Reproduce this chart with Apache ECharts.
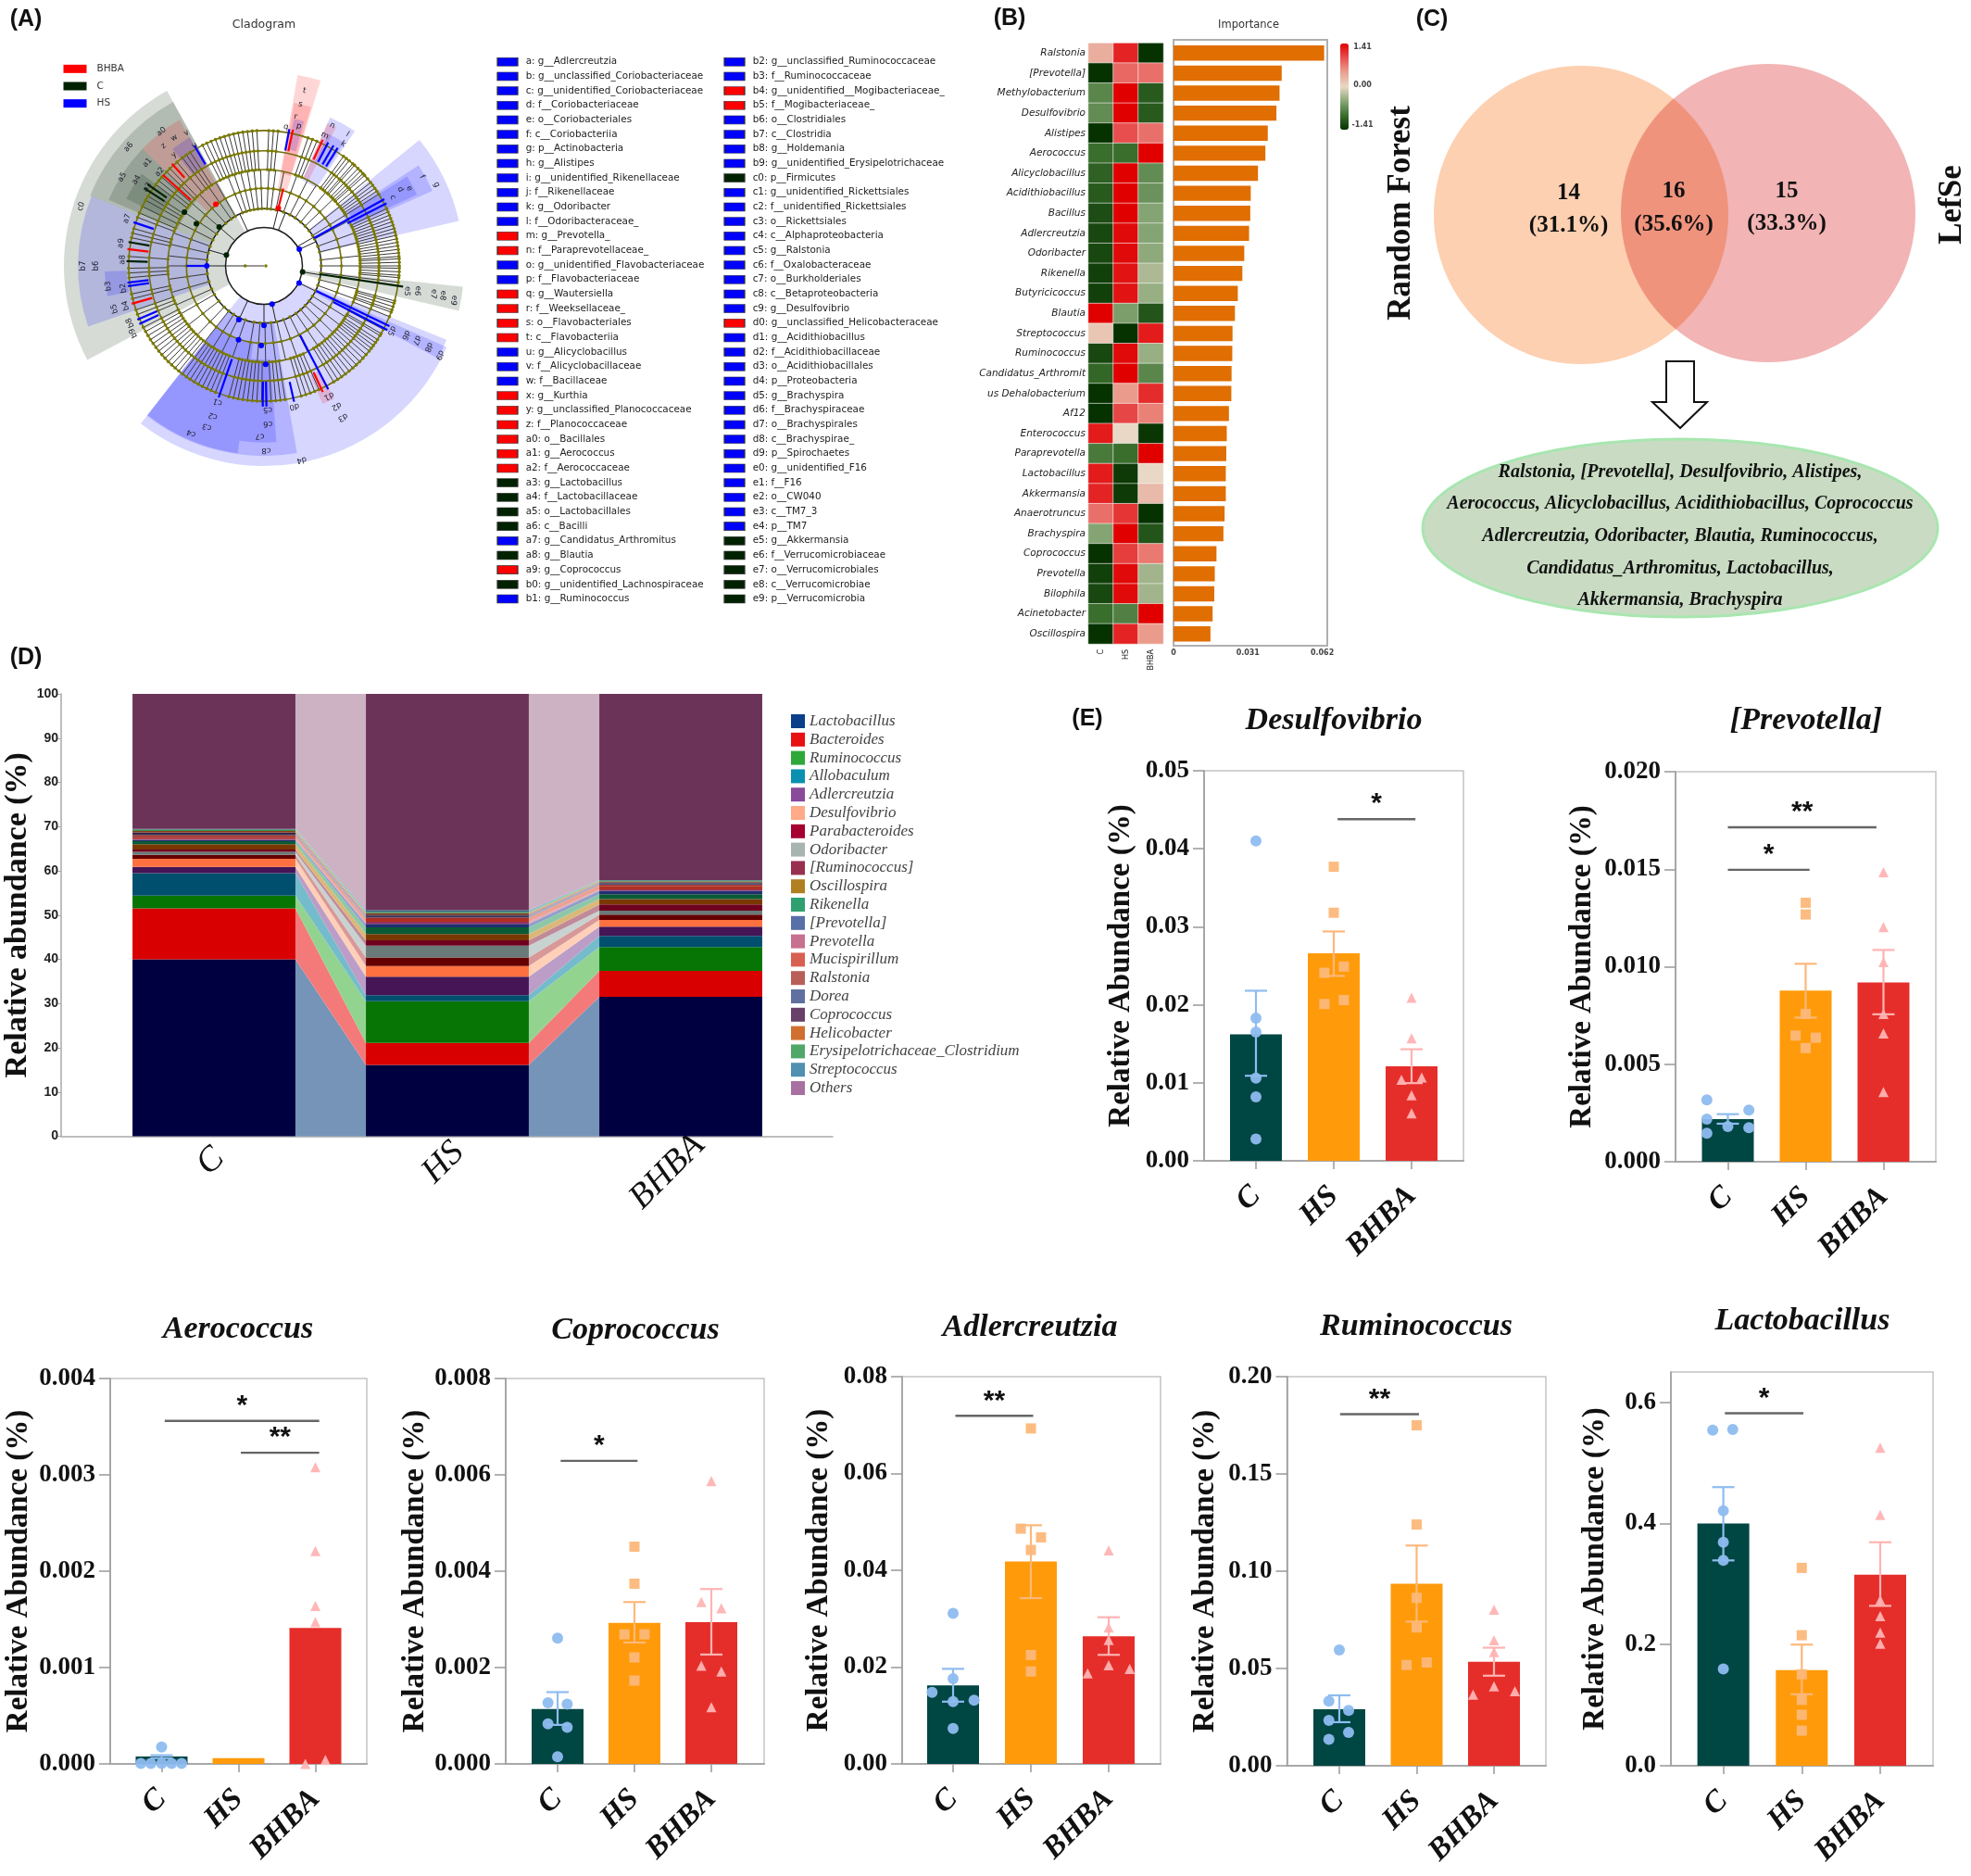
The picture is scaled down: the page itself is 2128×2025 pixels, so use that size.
<!DOCTYPE html>
<html><head><meta charset="utf-8"><style>html,body{margin:0;padding:0;background:#fff}#c{width:2128px;height:2025px}</style>
<script src="https://cdn.jsdelivr.net/npm/echarts@6/dist/echarts.min.js"></script></head>
<body><div id="c"></div>
<script>
// ---------- Panel A data ----------
const RED='#ff0000',DKG='#002200',BLU='#0000ff';
const lefseLeftNames=['a: g__Adlercreutzia','b: g__unclassified_Coriobacteriaceae','c: g__unidentified_Coriobacteriaceae','d: f__Coriobacteriaceae','e: o__Coriobacteriales','f: c__Coriobacteriia','g: p__Actinobacteria','h: g__Alistipes','i: g__unidentified_Rikenellaceae','j: f__Rikenellaceae','k: g__Odoribacter','l: f__Odoribacteraceae_','m: g__Prevotella_','n: f__Paraprevotellaceae_','o: g__unidentified_Flavobacteriaceae','p: f__Flavobacteriaceae','q: g__Wautersiella','r: f__Weeksellaceae_','s: o__Flavobacteriales','t: c__Flavobacteriia','u: g__Alicyclobacillus','v: f__Alicyclobacillaceae','w: f__Bacillaceae','x: g__Kurthia','y: g__unclassified_Planococcaceae','z: f__Planococcaceae','a0: o__Bacillales','a1: g__Aerococcus','a2: f__Aerococcaceae','a3: g__Lactobacillus','a4: f__Lactobacillaceae','a5: o__Lactobacillales','a6: c__Bacilli','a7: g__Candidatus_Arthromitus','a8: g__Blautia','a9: g__Coprococcus','b0: g__unidentified_Lachnospiraceae','b1: g__Ruminococcus'];
const lefseLeftGroups=['HS','HS','HS','HS','HS','HS','HS','HS','HS','HS','HS','HS','BHBA','BHBA','HS','HS','BHBA','BHBA','BHBA','BHBA','HS','HS','HS','BHBA','BHBA','BHBA','BHBA','BHBA','BHBA','C','C','C','C','HS','C','BHBA','C','HS'];
const lefseRightNames=['b2: g__unclassified_Ruminococcaceae','b3: f__Ruminococcaceae','b4: g__unidentified__Mogibacteriaceae_','b5: f__Mogibacteriaceae_','b6: o__Clostridiales','b7: c__Clostridia','b8: g__Holdemania','b9: g__unidentified_Erysipelotrichaceae','c0: p__Firmicutes','c1: g__unidentified_Rickettsiales','c2: f__unidentified_Rickettsiales','c3: o__Rickettsiales','c4: c__Alphaproteobacteria','c5: g__Ralstonia','c6: f__Oxalobacteraceae','c7: o__Burkholderiales','c8: c__Betaproteobacteria','c9: g__Desulfovibrio','d0: g__unclassified_Helicobacteraceae','d1: g__Acidithiobacillus','d2: f__Acidithiobacillaceae','d3: o__Acidithiobacillales','d4: p__Proteobacteria','d5: g__Brachyspira','d6: f__Brachyspiraceae','d7: o__Brachyspirales','d8: c__Brachyspirae_','d9: p__Spirochaetes','e0: g__unidentified_F16','e1: f__F16','e2: o__CW040','e3: c__TM7_3','e4: p__TM7','e5: g__Akkermansia','e6: f__Verrucomicrobiaceae','e7: o__Verrucomicrobiales','e8: c__Verrucomicrobiae','e9: p__Verrucomicrobia'];
const lefseRightGroups=['HS','HS','BHBA','BHBA','HS','HS','HS','HS','C','HS','HS','HS','HS','HS','HS','HS','HS','HS','BHBA','HS','HS','HS','HS','HS','HS','HS','HS','HS','HS','HS','HS','HS','HS','C','C','C','C','C'];
const cladeGroups=['BHBA','C','HS'];
const cladeGroupColors={BHBA:RED,C:DKG,HS:BLU};
// [startAngle, endAngle, innerRadius, outerRadius, group]
const cladeSectors=[[242,331,123,640,'C'],[251,292,183,595,'HS'],[292,331,183,600,'C'],[293,314,300,540,'C'],[296,307,370,490,'C'],[314,330,250,540,'BHBA'],[322,330,370,475,'HS'],[259,268,440,510,'HS'],[114,218,123,640,'HS'],[170,218,183,608,'HS'],[188,218,250,605,'HS'],[176,188,300,565,'HS'],[10,17,250,620,'BHBA'],[10.5,16.5,300,530,'BHBA'],[11.5,15.5,380,480,'HS'],[24,34,300,520,'HS'],[24,27.5,310,500,'BHBA'],[26,33,370,470,'HS'],[51,77,183,640,'HS'],[57,66,300,590,'HS'],[58,65,320,540,'HS'],[96,103,123,640,'C'],[112,118,183,630,'HS'],[152,157,380,480,'BHBA']];
const cladeRingRadii=[123,183,248,308,368,433];
const cladeOuterAngles=[19,21,23,36,37.5,39,41,42,44,45.5,47,48,50,52,53.5,55,56.5,58,65,66.5,68,69.5,71,72.5,74,75.5,77,78.5,80,81.5,83,84.5,86,87,88.5,90,91,92.5,94,95,97,105,106,107.5,109,110,112,118,120,121,123,124.5,126,127.5,129,131,133,135,137,139,141,143,145,147,149,156,158,160,162,164,171,173,175,177,181,183,185,187,189,191,193,195,201,203,205,207,209,211,213,215,217,219,221,223,225,227,229,231,233,235,237,239,241,243,247,249,251,256,258,265,267,269,274,282,284,286,291,293,296,299,301,303,307,309,311,314,316,320,323,325,327,333,335,337,339,341,343,345,347,349,351,353,355,357,2,4,6];
const cladeMidAngles=[338,342,346,350,354,358,3,7,12,20,27,33,40,46,52,58,62,70,76,84,90,97,104,110,116,122,128,134,140,146,153,160,167,173,179,184,190,199,206,212,218,224,232,240,246,254,262,270,276,283,290,297,304,311,318,325,330];
const cladeInnerAngles=[335,22,286,65,99,116,168,270,311,205,180,14,60];
// [angle, fromRadius, toRadius, group]
const cladeHighlights=[[61,183,440,'HS'],[63,300,440,'HS'],[115.6,185,445,'HS'],[117.5,250,445,'HS'],[152.5,250,445,'HS'],[167.5,380,445,'HS'],[179,370,450,'HS'],[180.5,370,450,'HS'],[199,315,445,'HS'],[270,183,248,'HS'],[288.5,372,440,'HS'],[261.5,372,440,'HS'],[263,372,440,'HS'],[245,372,440,'HS'],[247,372,440,'HS'],[330,375,445,'HS'],[10.5,375,445,'HS'],[27.5,375,445,'HS'],[30,375,445,'HS'],[32,375,445,'HS'],[14,190,255,'BHBA'],[12,375,445,'BHBA'],[312,315,435,'BHBA'],[318,380,440,'BHBA'],[277,372,440,'BHBA'],[254,372,440,'BHBA'],[155,375,445,'BHBA'],[25,375,445,'BHBA'],[98.5,180,450,'C'],[305,380,455,'C'],[303,380,455,'C'],[280,372,440,'C'],[272,372,440,'C']];
// [angle, radius, group]
const cladeKeyNodes=[[286,125,'C'],[99,125,'C'],[311,190,'C'],[302,255,'C'],[304,307,'C'],[64.7,125,'HS'],[116,125,'HS'],[168,125,'HS'],[205,190,'HS'],[180,190,'HS'],[199,250,'HS'],[182,255,'HS'],[179,315,'HS'],[270,183,'HS'],[322,250,'BHBA'],[14,190,'BHBA']];
// [text, angle, radius]
const cladeLabels=[['t',13,575],['s',12.7,530],['r',12,488],['p',14,460],['q',9,450],['n',26,500],['m',25,460],['l',32.4,498],['k',33,465],['g',64.8,610],['f',60.6,580],['e',62,527],['d',60.7,500],['c',62,467],['e9',100.3,617],['e8',99.4,580],['e7',99.4,550],['e6',99.2,498],['e5',100,465],['d9',116.9,630],['d8',116.3,587],['d7',116,543],['d6',116,505],['d5',117,458],['d4',169,632],['d3',152.5,546],['d2',152.7,505],['d1',153.5,465],['c8',179.3,590],['c7',181.4,545],['c6',178.6,505],['c5',178.5,460],['c4',203.5,583],['c3',199.5,546],['c2',198.8,507],['c1',198.8,460],['d0',167.8,460],['c0',288,615],['b9',242.8,470],['b8',247,465],['b7',270,578],['b6',270,538],['b5',254,497],['b4',254,460],['b3',262.6,502],['b2',261,455],['a9',279,463],['a8',272.5,453],['a7',289,463],['a6',311.3,576],['a5',302,535],['a4',304,492],['a3',304,450],['a2',312,449],['a1',311.5,498],['a0',322.6,540],['z',320,500],['y',321,457],['w',324.9,500],['v',329.7,492],['u',330,445]];

// ---------- Panel B data ----------
const rfGenera=['Ralstonia','[Prevotella]','Methylobacterium','Desulfovibrio','Alistipes','Aerococcus','Alicyclobacillus','Acidithiobacillus','Bacillus','Adlercreutzia','Odoribacter','Rikenella','Butyricicoccus','Blautia','Streptococcus','Ruminococcus','Candidatus_Arthromit','us Dehalobacterium','Af12','Enterococcus','Paraprevotella','Lactobacillus','Akkermansia','Anaerotruncus','Brachyspira','Coprococcus','Prevotella','Bilophila','Acinetobacter','Oscillospira'];
const rfImportance=[.0628,.0451,.0442,.0429,.0393,.0383,.0352,.0322,.0320,.0315,.0295,.0287,.0268,.0256,.0246,.0245,.0242,.0241,.0231,.0222,.0220,.0218,.0218,.0213,.0208,.0179,.0172,.0170,.0163,.0154];
const heatGroups=['C','HS','BHBA'];
const heatC=[.35,-1.41,-.75,-.7,-1.41,-.95,-1.05,-1.1,-1.2,-1.25,-1.25,-1.3,-1.3,1.41,.15,-1.25,-1,-1.41,-1.41,1.25,-.85,1.25,1.2,.75,-.5,-1.41,-1.3,-1.25,-.95,-1.41];
const heatHS=[1.2,.8,1.41,1.41,.95,-.95,1.41,1.41,1.41,1.35,1.35,1.3,1.3,-.55,-1.41,1.35,1.41,.5,1,0,-.95,-1.35,-1.35,1.1,1.41,1.05,1.35,1.35,-.8,1.2];
const heatBHBA=[-1.41,.75,-1.1,-1.1,.75,1.41,-.7,-.65,-.5,-.5,-.45,-.3,-.4,-1.15,1.25,-.4,-.75,1.15,.65,-1.38,1.41,0,.25,-1.41,-1.15,.7,-.35,-.35,1.41,.5];

// ---------- Panel C text ----------
const vennNumbers=[['14','(31.1%)'],['16','(35.6%)'],['15','(33.3%)']];
const sharedGenera=['Ralstonia, [Prevotella], Desulfovibrio, Alistipes,','Aerococcus, Alicyclobacillus, Acidithiobacillus, Coprococcus','Adlercreutzia, Odoribacter, Blautia, Ruminococcus,','Candidatus_Arthromitus, Lactobacillus,','Akkermansia, Brachyspira'];

// ---------- Panel D data ----------
const stackGroups=['C','HS','BHBA'];
const stackTaxa=['Lactobacillus','Bacteroides','Ruminococcus','Allobaculum','Adlercreutzia','Desulfovibrio','Parabacteroides','Odoribacter','[Ruminococcus]','Oscillospira','Rikenella','[Prevotella]','Prevotella','Mucispirillum','Ralstonia','Dorea','Coprococcus','Helicobacter','Erysipelotrichaceae_Clostridium','Streptococcus','Others'];
const stackC=[40,11.5,2.9,5.1,1.4,1.8,.9,.7,.5,1.2,.7,.3,.3,.3,.5,.3,.3,.3,.3,.2,30.5];
const stackHS=[16.1,5,9.4,1.4,4.15,2.45,1.9,2.7,1.2,1.4,1.5,.8,.5,.6,.4,.3,.3,.3,.3,.4,48.9];
const stackBHBA=[31.5,5.9,5.4,2.5,2.1,1.5,1.2,.9,1.4,1.2,1.1,.8,.3,.8,.3,.3,.2,.2,.2,.1,42.1];
const stackBarColors=['#000040','#d80000','#067506','#004f6e','#451555','#ff7040','#650000','#6a7a78','#6f0020','#7a3800','#0a5a35','#1f2f70','#9a3060','#b03020','#a03030','#2a3a60','#3b1a40','#8a4010','#3a8a50','#2a6a80','#6b3358'];
const stackLinkColors=['#7594b8','#f47a7a','#93d390','#74bccb','#bb9dc7','#ffcfb8','#d89898','#c8d2d0','#c08a9a','#dcb878','#8cc8a8','#8f9fc8','#e0a8bc','#eca090','#d89a90','#9aa8c8','#a890b0','#e8a870','#8cc89a','#8cb8cc','#cdb2c4'];
const stackLegendColors=['#0a3f8a','#e81010','#2fa83a','#0a90b0','#8a4a9a','#ffaa88','#a50030','#a8b4b0','#983050','#b08020','#30a070','#5870a8','#c87090','#d86050','#b86058','#6070a0','#684068','#d07030','#50a868','#5090b0','#a870a0'];
const stackLabelShift=[8,17,28];

// ---------- Panel E data ----------
const groups=['C','HS','BHBA'];
const desulfovibrioBars=[.0162,.0266,.0121], desulfovibrioHi=[.0218,.0294,.0143], desulfovibrioLo=[.0109,.0237,.00996];
const desulfovibrioC=[[0,.041],[0,.0183],[0,.0165],[0,.0106],[0,.0082],[0,.0028]];
const desulfovibrioHS=[[1,.0377],[1,.0318],[1.13,.0249],[.88,.0241],[1.13,.0206],[.88,.0201]];
const desulfovibrioB=[[2,.0209],[2,.0157],[2.13,.0107],[1.87,.0104],[2,.0084],[2,.0061]];
const desulfovibrioSig=[[1.05,2.05,.0438,'*']];
const prevotellaBars=[.00218,.00878,.00919], prevotellaHi=[.00244,.01015,.01086], prevotellaLo=[.00195,.00739,.00756];
const prevotellaC=[[-.27,.00317],[.27,.00265],[-.27,.00218],[0,.0018],[.27,.00175],[-.27,.00146]];
const prevotellaHS=[[1,.01328],[1,.01268],[1,.00758],[.87,.00647],[1.13,.00636],[1,.00583]];
const prevotellaB=[[2,.01484],[2,.01203],[2,.01024],[2,.00758],[2,.00658],[2,.00358]];
const prevotellaSig=[[0,1.91,.01715,'**'],[0,1.05,.01497,'*']];
const aerococcusBars=[.0000766,.00006,.00141], aerococcusHi=[.00009,null,null], aerococcusLo=[.00006,null,null];
const aerococcusC=[[0,.000176],[-.27,.000004],[-.14,.000004],[0,.000004],[.13,.000004],[.26,.000004]];
const aerococcusHS=[];
const aerococcusB=[[2,.00308],[2,.00221],[2,.00164],[2,.00147],[1.87,0],[2.13,.00004]];
const aerococcusSig=[[.04,2.05,.00356,'*'],[1.03,2.05,.00323,'**']];
const coprococcusBars=[.00114,.00293,.00294], coprococcusHi=[.00149,.00336,.00363], coprococcusLo=[.00081,.00252,.00227];
const coprococcusC=[[0,.00261],[-.125,.00127],[.125,.00124],[-.125,.00083],[.125,.00076],[0,.00015]];
const coprococcusHS=[[1,.00451],[1,.00374],[.87,.00269],[1.13,.00269],[1,.00221],[1,.00173]];
const coprococcusB=[[2,.00587],[1.87,.00336],[2.13,.00323],[1.87,.00204],[2.13,.00192],[2,.00118]];
const coprococcusSig=[[.04,1.04,.00629,'*']];
const adlercreutziaBars=[.0162,.0418,.02634], adlercreutziaHi=[.01964,.0493,.0303], adlercreutziaLo=[.01286,.03425,.02253];
const adlercreutziaC=[[0,.0311],[0,.0176],[-.27,.01477],[.27,.01317],[0,.01286],[0,.0073]];
const adlercreutziaHS=[[1,.0693],[.87,.0486],[1.13,.0468],[1,.0442],[1,.0225],[1,.0191]];
const adlercreutziaB=[[2,.0441],[2,.0282],[2,.0256],[2,.0204],[1.73,.0187],[2.27,.0196]];
const adlercreutziaSig=[[.03,1.03,.0719,'**']];
const ruminococcusBars=[.029,.0936,.0535], ruminococcusHi=[.0362,.1132,.0607], ruminococcusLo=[.0224,.0741,.0463];
const ruminococcusC=[[0,.0595],[-.135,.0332],[.12,.0284],[-.135,.0233],[.12,.0171],[-.135,.0136]];
const ruminococcusHS=[[1,.175],[1,.124],[1,.0863],[1,.0711],[1.13,.0531],[.87,.0518]];
const ruminococcusB=[[2,.0802],[2,.0645],[2,.0584],[2,.0408],[1.73,.0366],[2.27,.0383]];
const ruminococcusSig=[[.01,1.03,.1807,'**']];
const lactobacillusBars=[.4,.158,.3156], lactobacillusHi=[.46,.2,.369], lactobacillusLo=[.339,.118,.264];
const lactobacillusC=[[-.135,.554],[.12,.555],[0,.421],[0,.369],[0,.339],[0,.16]];
const lactobacillusHS=[[1,.3266],[1,.2155],[1,.151],[1,.1087],[1,.0842],[1,.058]];
const lactobacillusB=[[2,.525],[2,.414],[2,.2735],[2,.247],[2,.22],[2,.2015]];
const lactobacillusSig=[[.02,1.02,.582,'*']];

// ---------- layout ----------
const SERIF='"Liberation Serif"', SANS='"Liberation Sans"', DJ='"DejaVu Sans"';
const barColors=['#004643','#ff9b0a','#e52e2a'], pointColors=['#8ebcf0','#fcb87a','#ffb3b3'], pointSymbols=['circle','rect','triangle'];
const panels=[
 {title:'Desulfovibrio',tx:1440,ty:778,l:1300,r:1580,t:832,b:1253,c0:1356,step:84,titleX:1210,max:.05,iv:.01,dec:2,bars:desulfovibrioBars,hi:desulfovibrioHi,lo:desulfovibrioLo,pts:[desulfovibrioC,desulfovibrioHS,desulfovibrioB],sig:desulfovibrioSig},
 {title:'[Prevotella]',tx:1950,ty:778,l:1809,r:2090,t:833,b:1254,c0:1865.5,step:84,titleX:1708,max:.02,iv:.005,dec:3,bars:prevotellaBars,hi:prevotellaHi,lo:prevotellaLo,pts:[prevotellaC,prevotellaHS,prevotellaB],sig:prevotellaSig},
 {title:'Aerococcus',tx:257,ty:1435,l:119,r:396,t:1488,b:1904,c0:174.5,step:83,titleX:20,max:.004,iv:.001,dec:3,bars:aerococcusBars,hi:aerococcusHi,lo:aerococcusLo,pts:[aerococcusC,aerococcusHS,aerococcusB],sig:aerococcusSig},
 {title:'Coprococcus',tx:686,ty:1436,l:546,r:825,t:1488,b:1904,c0:602,step:83,titleX:449,max:.008,iv:.002,dec:3,bars:coprococcusBars,hi:coprococcusHi,lo:coprococcusLo,pts:[coprococcusC,coprococcusHS,coprococcusB],sig:coprococcusSig},
 {title:'Adlercreutzia',tx:1112,ty:1433,l:974,r:1253,t:1486,b:1904,c0:1029,step:84,titleX:884,max:.08,iv:.02,dec:2,bars:adlercreutziaBars,hi:adlercreutziaHi,lo:adlercreutziaLo,pts:[adlercreutziaC,adlercreutziaHS,adlercreutziaB],sig:adlercreutziaSig},
 {title:'Ruminococcus',tx:1529,ty:1432,l:1389.5,r:1669,t:1486,b:1906,c0:1446,step:83.5,titleX:1301,max:.2,iv:.05,dec:2,bars:ruminococcusBars,hi:ruminococcusHi,lo:ruminococcusLo,pts:[ruminococcusC,ruminococcusHS,ruminococcusB],sig:ruminococcusSig},
 {title:'Lactobacillus',tx:1946,ty:1426,l:1804,r:2087,t:1481,b:1906,c0:1860.6,step:84.7,titleX:1722,max:.65,iv:.2,dec:1,bars:lactobacillusBars,hi:lactobacillusHi,lo:lactobacillusLo,pts:[lactobacillusC,lactobacillusHS,lactobacillusB],sig:lactobacillusSig}
];
const grid=[],xAxis=[],yAxis=[],series=[],title=[];
function addGrid(g,x,y){grid.push(g);const i=grid.length-1;xAxis.push(...x.map(a=>({gridIndex:i,...a})));yAxis.push(...y.map(a=>({gridIndex:i,...a})));return {g:i,x0:xAxis.length-x.length,y0:yAxis.length-y.length};}
const hiddenVal=(min,max)=>({type:'value',min,max,show:false,splitLine:{show:false}});
const GRAY='#a8a8a8';

// ----- Panel E charts -----
panels.forEach(p=>{
 title.push({text:p.title,left:p.tx,top:p.ty,textAlign:'center',textVerticalAlign:'middle',padding:0,textStyle:{fontFamily:SERIF,fontStyle:'italic',fontWeight:'bold',fontSize:34,color:'#111'}});
 addGrid({left:p.l,top:p.t,width:p.r-p.l,height:p.b-p.t,show:true,borderColor:'#c4c4c4',borderWidth:1.5,backgroundColor:'transparent'},
  [{type:'value',min:0,max:1,axisLine:{show:true,onZero:false,lineStyle:{color:GRAY,width:2}},axisTick:{show:false},axisLabel:{show:false},splitLine:{show:false}}],
  [{type:'value',min:0,max:p.max,interval:p.iv,name:'Relative Abundance (%)',nameLocation:'middle',nameGap:p.l-p.titleX-17,nameTextStyle:{fontFamily:SERIF,fontWeight:'bold',fontSize:33,color:'#111'},axisLine:{show:true,lineStyle:{color:'#999',width:1.5}},axisTick:{show:true,length:12,lineStyle:{color:'#999',width:1.5}},axisLabel:{margin:16,showMaxLabel:p.max!==.65,fontFamily:SERIF,fontWeight:'bold',fontSize:27,color:'#111',formatter:v=>Math.abs(v/p.iv-Math.round(v/p.iv))>1e-6?'':v.toFixed(p.dec)},splitLine:{show:false}}]);
 const a=addGrid({left:p.c0-p.step/2,top:p.t,width:p.step*3,height:p.b-p.t},
  [{type:'category',data:groups,axisLine:{show:false},axisTick:{show:true,alignWithLabel:true,length:9,lineStyle:{color:'#999',width:1.5}},axisLabel:{interval:0,rotate:45,margin:33,fontFamily:SERIF,fontStyle:'italic',fontWeight:'bold',fontSize:33,color:'#111'}},hiddenVal(-.5,2.5)],
  [hiddenVal(0,p.max)]);
 series.push({type:'bar',xAxisIndex:a.x0,yAxisIndex:a.y0,barWidth:56,data:p.bars.map((v,i)=>({value:v,itemStyle:{color:barColors[i]}})),silent:true,z:2});
 const errs=[];p.hi.forEach((h,i)=>{if(h!=null)errs.push([i,h,p.lo[i]]);});
 series.push({type:'custom',xAxisIndex:a.x0+1,yAxisIndex:a.y0,silent:true,z:3,data:errs,clip:false,renderItem:(ps,api)=>{
   const x=api.value(0),top=api.coord([x,api.value(1)]),bot=api.coord([x,api.value(2)]),cap=12,st={stroke:pointColors[x],lineWidth:2.2};
   return {type:'group',children:[[top[0],top[1],top[0],bot[1]],[top[0]-cap,top[1],top[0]+cap,top[1]],[top[0]-cap,bot[1],top[0]+cap,bot[1]]].map(s=>({type:'line',shape:{x1:s[0],y1:s[1],x2:s[2],y2:s[3]},style:st}))};
 }});
 p.pts.forEach((pt,i)=>{ if(pt.length) series.push({type:'scatter',xAxisIndex:a.x0+1,yAxisIndex:a.y0,data:pt,symbol:pointSymbols[i],symbolSize:i==0?12:11,itemStyle:{color:pointColors[i],opacity:.95},silent:true,z:4,clip:false}); });
 series.push({type:'custom',xAxisIndex:a.x0+1,yAxisIndex:a.y0,silent:true,z:5,clip:false,data:p.sig.map(s=>[s[0],s[1],s[2]]),renderItem:(ps,api)=>{
   const s=p.sig[ps.dataIndex],A=api.coord([s[0],s[2]]),B=api.coord([s[1],s[2]]);
   return {type:'group',children:[{type:'line',shape:{x1:A[0],y1:A[1],x2:B[0],y2:B[1]},style:{stroke:'#666',lineWidth:2.4}},{type:'text',x:(A[0]+B[0])/2,y:A[1]-16,style:{text:s[3],fill:'#111',font:'bold 30px '+SANS,align:'center',verticalAlign:'middle'}}]};
 }});
});

// ----- Panel D -----
addGrid({left:66,top:749,width:833,height:477.5},
 [{type:'value',min:0,max:1,axisLine:{show:true,onZero:false,lineStyle:{color:GRAY,width:1.5}},axisTick:{show:false},axisLabel:{show:false},splitLine:{show:false}}],
 [{type:'value',min:0,max:100,interval:10,name:'Relative abundance (%)',nameLocation:'middle',nameGap:25,nameTextStyle:{fontFamily:SERIF,fontWeight:'bold',fontSize:34,color:'#111'},axisLine:{show:true,lineStyle:{color:GRAY,width:1.5}},axisTick:{show:true,length:5,lineStyle:{color:GRAY}},axisLabel:{margin:3,fontFamily:SANS,fontWeight:'bold',fontSize:14,color:'#222'},splitLine:{show:false}}]);
const dg=addGrid({left:105,top:749,width:756,height:477.5},
 [{type:'category',data:stackGroups.map((g,i)=>({value:g,textStyle:{padding:[0,-stackLabelShift[i],0,0]}})),axisLine:{show:false},axisTick:{show:false},axisLabel:{interval:0,rotate:45,margin:24,fontFamily:SERIF,fontStyle:'italic',fontSize:38,color:'#111'}}],
 [hiddenVal(0,100)]);
const stackCols=[stackC,stackHS,stackBHBA];
stackTaxa.forEach((t,i)=>series.push({name:t,type:'bar',stack:'taxa',xAxisIndex:dg.x0,yAxisIndex:dg.y0,barWidth:'69.8%',data:stackCols.map(c=>c[i]),itemStyle:{color:stackBarColors[i]},silent:true,z:3}));
const cum=stackCols.map(c=>{let s=0;return [0].concat(c.map(v=>(s+=v)));});
const linkData=[];[0,1].forEach(p=>stackTaxa.forEach((t,i)=>linkData.push([p,i])));
series.push({type:'custom',xAxisIndex:dg.x0,yAxisIndex:dg.y0,silent:true,z:2,data:linkData,clip:false,renderItem:(ps,api)=>{
  const p=api.value(0),i=api.value(1),half=api.size([1,0])[0]*.349;
  const a0=api.coord([p,cum[p][i]]),a1=api.coord([p,cum[p][i+1]]),b0=api.coord([p+1,cum[p+1][i]]),b1=api.coord([p+1,cum[p+1][i+1]]);
  return {type:'polygon',shape:{points:[[a0[0]+half,a0[1]],[a1[0]+half,a1[1]],[b1[0]-half,b1[1]],[b0[0]-half,b0[1]]]},style:{fill:stackLinkColors[i]}};
}});

// ----- Panel B -----
addGrid({left:1267,top:43,width:166,height:654,show:true,borderColor:'#b0b0b0',borderWidth:2,backgroundColor:'transparent'},[hiddenVal(0,1)],[hiddenVal(0,1)]);
const hg=addGrid({left:1175,top:46.5,width:81,height:648.5},
 [{type:'category',data:heatGroups,axisLine:{show:false},axisTick:{show:false},axisLabel:{interval:0,rotate:90,margin:6,fontFamily:DJ,fontSize:8,color:'#222'}}],
 [{type:'category',data:rfGenera,inverse:true,axisLine:{show:false},axisTick:{show:false},axisLabel:{interval:0,margin:3,fontFamily:DJ,fontStyle:'italic',fontSize:10.5,color:'#222'}}]);
const heatCols=[heatC,heatHS,heatBHBA],heatData=[];
heatCols.forEach((c,x)=>c.forEach((v,y)=>heatData.push([x,y,v])));
series.push({type:'heatmap',xAxisIndex:hg.x0,yAxisIndex:hg.y0,data:heatData,itemStyle:{borderColor:'rgba(255,255,255,.55)',borderWidth:1},silent:true});
const bg=addGrid({left:1267,top:46.5,width:166,height:648.5},
 [{type:'value',min:0,max:.0641,interval:.031,axisLine:{show:false},axisTick:{show:false},splitLine:{show:false},axisLabel:{margin:6,showMaxLabel:false,fontFamily:DJ,fontWeight:'bold',fontSize:8,color:'#444',formatter:v=>v===0?'0':v.toFixed(3)}}],
 [{type:'category',data:rfGenera,inverse:true,show:false}]);
series.push({type:'bar',xAxisIndex:bg.x0,yAxisIndex:bg.y0,data:rfImportance,barWidth:'76%',itemStyle:{color:'#e06e00'},silent:true});
title.push({text:'Importance',left:1348,top:27,textAlign:'center',textVerticalAlign:'middle',padding:0,textStyle:{fontFamily:DJ,fontSize:11.5,fontWeight:'normal',color:'#333'}});

// ----- Panel A legends -----
const lefseCols=[[548,lefseLeftNames,lefseLeftGroups],[793,lefseRightNames,lefseRightGroups]];
lefseCols.forEach(col=>{
 const a=addGrid({left:col[0],top:58.9,width:1,height:595.4},[hiddenVal(0,1)],[{type:'category',data:col[1],inverse:true,show:false}]);
 series.push({type:'scatter',xAxisIndex:a.x0,yAxisIndex:a.y0,silent:true,symbol:'rect',symbolSize:[22,9],clip:false,
  data:col[1].map((n,i)=>({value:[0,i],itemStyle:{color:cladeGroupColors[col[2][i]],opacity:1,borderColor:'#333',borderWidth:.8},label:{show:true,position:'right',distance:8,formatter:n,fontFamily:DJ,fontSize:10.4,color:'#222'}}))});
});
const cladeLeg=addGrid({left:81,top:65,width:1,height:56},[hiddenVal(0,1)],[{type:'category',data:cladeGroups,inverse:true,show:false}]);
series.push({type:'scatter',xAxisIndex:cladeLeg.x0,yAxisIndex:cladeLeg.y0,silent:true,symbol:'rect',symbolSize:[25,9],clip:false,
 data:cladeGroups.map((n,i)=>({value:[0,i],itemStyle:{color:cladeGroupColors[n],opacity:1},label:{show:true,position:'right',distance:11,formatter:n,fontFamily:DJ,fontSize:10.5,color:'#333'}}))});
title.push({text:'Cladogram',left:285,top:27,textAlign:'center',textVerticalAlign:'middle',padding:0,textStyle:{fontFamily:DJ,fontSize:12.5,fontWeight:'normal',color:'#333'}});

// ----- Panel A cladogram (polar) -----
const polar={center:[285,287],radius:216};
const radiusAxis={min:0,max:640,show:false};
const angleAxis={type:'value',min:0,max:360,startAngle:90,show:false};
const toRad=a=>(a-90)*Math.PI/180;
series.push({type:'custom',coordinateSystem:'polar',silent:true,z:1,data:cladeSectors.map(s=>[s[2],s[0]]),clip:false,renderItem:(ps,api)=>{
  const s=cladeSectors[ps.dataIndex],o=ps.coordSys,r0=api.coord([s[2],s[0]])[2],r1=api.coord([s[3],s[0]])[2];
  return {type:'sector',shape:{cx:o.cx,cy:o.cy,r0,r:r1,startAngle:toRad(s[0]),endAngle:toRad(s[1]),clockwise:true},style:{fill:cladeGroupColors[s[4]],opacity:.16}};
}});
function spokes(angles,r0,r1,color,w,z){series.push({type:'custom',coordinateSystem:'polar',silent:true,z,clip:false,data:angles.map(a=>[r0,a]),renderItem:(ps,api)=>{
  const a=api.value(1),A=api.coord([r0,a]),B=api.coord([r1,a]);
  return {type:'line',shape:{x1:A[0],y1:A[1],x2:B[0],y2:B[1]},style:{stroke:color,lineWidth:w}};
}});}
spokes(cladeOuterAngles,308,433,'#3a3a3a',1,2);
spokes(cladeMidAngles,183,308,'#3a3a3a',1,2);
spokes(cladeInnerAngles,123,183,'#222',1,2);
spokes([270],0,123,'#333',1,2);
series.push({type:'custom',coordinateSystem:'polar',silent:true,z:3,clip:false,data:cladeRingRadii.map(r=>[r,0]),renderItem:(ps,api)=>{
  const r=api.coord([api.value(0),0])[2],o=ps.coordSys;
  return {type:'circle',shape:{cx:o.cx,cy:o.cy,r},style:{fill:'none',stroke:ps.dataIndex<2?'#1c1c1c':'#6f6f10',lineWidth:ps.dataIndex<2?1.5:1.6}};
}});
const olive=[];
cladeOuterAngles.forEach(a=>[308,368,433].forEach(r=>olive.push([r,a])));
cladeMidAngles.forEach(a=>[183,248].forEach(r=>olive.push([r,a])));
olive.push([60,270],[6,90]);
series.push({type:'scatter',coordinateSystem:'polar',silent:true,z:4,clip:false,data:olive,symbolSize:3.6,itemStyle:{color:'#7a7a00',opacity:1}});
series.push({type:'custom',coordinateSystem:'polar',silent:true,z:5,clip:false,data:cladeHighlights.map(h=>[h[1],h[0]]),renderItem:(ps,api)=>{
  const h=cladeHighlights[ps.dataIndex],A=api.coord([h[1],h[0]]),B=api.coord([h[2],h[0]]);
  return {type:'line',shape:{x1:A[0],y1:A[1],x2:B[0],y2:B[1]},style:{stroke:cladeGroupColors[h[3]],lineWidth:2.2}};
}});
series.push({type:'scatter',coordinateSystem:'polar',silent:true,z:6,clip:false,symbolSize:6,data:cladeKeyNodes.map(n=>({value:[n[1],n[0]],itemStyle:{color:cladeGroupColors[n[2]],opacity:1}}))});
series.push({type:'custom',coordinateSystem:'polar',silent:true,z:7,clip:false,data:cladeLabels.map(l=>[l[2],l[1]]),renderItem:(ps,api)=>{
  const l=cladeLabels[ps.dataIndex],P=api.coord([l[2],l[1]]);
  return {type:'text',x:P[0],y:P[1],rotation:-l[1]*Math.PI/180,style:{text:l[0],fill:'#223',font:'8.5px '+DJ,align:'center',verticalAlign:'middle'}};
}});

// ----- free text / Venn -----
const txt=(text,x,y,font,extra)=>({type:'text',x,y,z:20,...(extra||{}),style:{text,font,fill:(extra&&extra.fill)||'#111',align:'center',verticalAlign:'middle',textAlign:'center',textVerticalAlign:'middle'}});
const elements=[
 txt('(A)',28,21,'bold 25px '+SANS),txt('(B)',1090,20,'bold 25px '+SANS),txt('(C)',1546,21,'bold 25px '+SANS),txt('(D)',28,710,'bold 25px '+SANS),txt('(E)',1174,776,'bold 25px '+SANS),
 txt('1.41',1471,51,'bold 8px '+DJ,{fill:'#444'}),txt('0.00',1471,92,'bold 8px '+DJ,{fill:'#444'}),txt('-1.41',1471,135,'bold 8px '+DJ,{fill:'#444'}),
 {type:'ellipse',z:5,shape:{cx:1707,cy:232,rx:159,ry:161},style:{fill:'#fdd0b1'}},
 {type:'ellipse',z:6,shape:{cx:1909,cy:230,rx:159,ry:161},style:{fill:'rgba(212,8,8,0.3)'}},
 txt('Random Forest',1513,230,'bold 35px '+SERIF,{rotation:Math.PI/2}),txt('LefSe',2108,221,'bold 35px '+SERIF,{rotation:Math.PI/2}),
 {type:'polygon',z:8,shape:{points:[[1799,390],[1829,390],[1829,434],[1843,434],[1814,462],[1784,434],[1799,434]]},style:{fill:'#fff',stroke:'#111',lineWidth:2}},
 {type:'ellipse',z:8,shape:{cx:1814,cy:570,rx:278,ry:96},style:{fill:'#c9dcc3',stroke:'#a8e6b0',lineWidth:3}}
];
[1693.5,1807,1929].forEach((x,i)=>{const y1=[209,207,207][i],y2=[244,243,242][i];elements.push(txt(vennNumbers[i][0],x,y1,'bold 25px '+SERIF),txt(vennNumbers[i][1],x,y2,'bold 25px '+SERIF));});
[510,544,579,614,648].forEach((y,i)=>elements.push(txt(sharedGenera[i],1814,y,'italic bold 20px '+SERIF)));

const chart=echarts.init(document.getElementById('c'));
chart.setOption({animation:false,backgroundColor:'#fff',title,grid,xAxis,yAxis,polar,radiusAxis,angleAxis,series,
 legend:{left:854,top:770,orient:'vertical',itemWidth:15,itemHeight:15,itemGap:2.8,icon:'rect',selectedMode:false,padding:0,textStyle:{fontFamily:SERIF,fontStyle:'italic',fontSize:17,color:'#444'},
  data:stackTaxa.map((n,i)=>({name:n,itemStyle:{color:stackLegendColors[i]}}))},
 visualMap:{type:'continuous',min:-1.41,max:1.41,seriesIndex:series.findIndex(s=>s.type==='heatmap'),dimension:2,orient:'vertical',left:1447,top:47,itemWidth:9,itemHeight:93,calculable:false,text:null,showLabel:false,padding:0,
  inRange:{color:['#063200','#3a6f2e','#8aa878','#e8d8c5','#eaa090','#e85050','#e00000']}},
 graphic:{elements}
});
</script></body></html>
